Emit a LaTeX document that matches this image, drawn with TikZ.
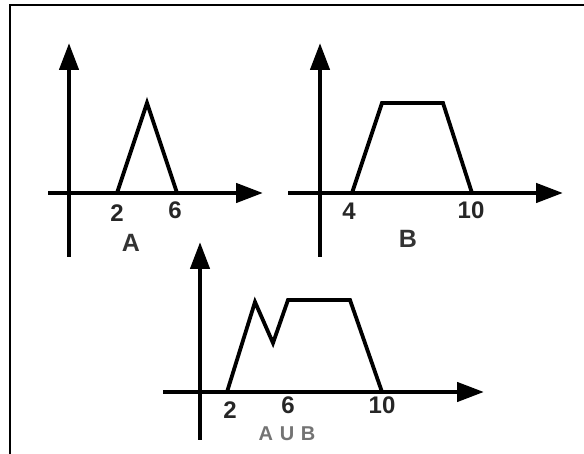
\documentclass[tikz,border=0pt]{standalone}
\usepackage{fontspec}
\setmainfont{Liberation Sans}
\usepackage{tikz}
\usetikzlibrary{arrows.meta}

\begin{document}
\begin{tikzpicture}[x=1pt,y=1pt,
  axis/.style={line width=4.5pt,-{Triangle[length=27pt,width=19pt]}},
  curve/.style={line width=3.8pt,line join=miter},
  tick/.style={font=\fontsize{24}{24}\selectfont\bfseries,text=black!85,inner sep=0pt},
  setname/.style={font=\fontsize{25}{25}\selectfont\bfseries,text=black!80,inner sep=0pt},
  unionname/.style={font=\fontsize{20}{20}\selectfont\bfseries,text=black!55,inner sep=0pt}]
\useasboundingbox (0,0) rectangle (584,454);
\draw[line width=2.5pt] (10,0) -- (10,449) -- (584,449);
% set A
\draw[axis] (69,197) -- (69,411);
\draw[axis] (48,261) -- (263,261);
\draw[curve] (117,261) -- (147,351) -- (177,261);
\node[tick] (a2) at (117,241) {2};
\node[tick] (a6) at (175,244) {6};
\node[setname] (nameA) at (131,211) {A};
% set B
\draw[axis] (320,197) -- (320,411);
\draw[axis] (288,261) -- (563,261);
\draw[curve] (352,261) -- (382,351) -- (443,351) -- (472,261);
\node[tick] (b4) at (349,243) {4};
\node[tick] (b10) at (471,244) {10};
\node[setname] (nameB) at (408,215) {B};
% union
\draw[axis] (200,14) -- (200,212);
\draw[axis] (163,62) -- (484,62);
\draw[curve] (227,62) -- (255,152) -- (273,111) -- (288,154) -- (350,154) -- (382,62);
\node[tick] (c2) at (230,44) {2};
\node[tick] (c6) at (288,49) {6};
\node[tick] (c10) at (382,49) {10};
\node[unionname] (nameAUB) at (287,20) {A\,\,U\,\,B};
\end{tikzpicture}
\end{document}
